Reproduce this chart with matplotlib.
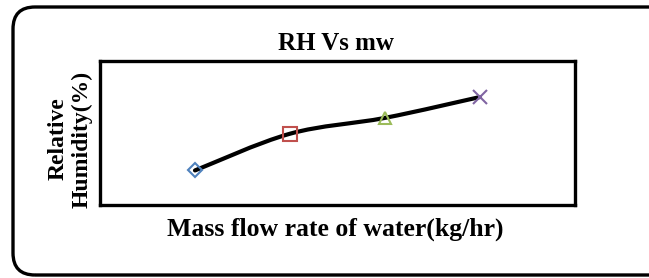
import matplotlib.pyplot as plt
from matplotlib.patches import FancyBboxPatch
from matplotlib.path import Path
from matplotlib.patches import PathPatch
import numpy as np

plt.rcParams['font.family'] = ['Liberation Serif', 'DejaVu Serif']

# data (no tick labels in the original)
flow = [1, 2, 3, 4]
rh = [24, 49.5, 60.5, 75]
markers = ['D', 's', '^', 'x']
msizes = [7, 9.4, 9, 10]
colors = ['#4F81BD', '#C0504D', '#9BBB59', '#8064A2']

W, H = 649, 278
fig = plt.figure(figsize=(W / 100, H / 100), dpi=100)

# outer rounded frame
frame = FancyBboxPatch((13 / W, 1 - 275 / H), 700 / W, 268 / H,
                       boxstyle='round,pad=0,rounding_size=%f' % (22 / W),
                       transform=fig.transFigure, fill=False,
                       edgecolor='black', linewidth=2.4,
                       mutation_aspect=W / H)
fig.add_artist(frame)

ax = fig.add_axes([100 / W, 1 - 205 / H, 475 / W, 144 / H])
ax.set_xlim(0, 5)
ax.set_ylim(0, 100)
ax.set_xticks([])
ax.set_yticks([])
for s in ax.spines.values():
    s.set_linewidth(2.4)

# smoothed line (Catmull-Rom style bezier through the points)
pts = ax.transData.transform(np.column_stack([flow, rh]))
verts = [tuple(pts[0])]
codes = [Path.MOVETO]
n = len(pts)
for i in range(n - 1):
    p0 = pts[i - 1] if i > 0 else pts[i]
    p1 = pts[i]
    p2 = pts[i + 1]
    p3 = pts[i + 2] if i + 2 < n else pts[i + 1]
    c1 = p1 + (p2 - p0) / 6
    c2 = p2 - (p3 - p1) / 6
    verts += [tuple(c1), tuple(c2), tuple(p2)]
    codes += [Path.CURVE4] * 3
inv = ax.transData.inverted()
verts = [tuple(inv.transform(v)) for v in verts]
ax.add_patch(PathPatch(Path(verts, codes), fill=False, edgecolor='black',
                       linewidth=3.0, capstyle='round', zorder=2))

for x, y, m, ms, c in zip(flow, rh, markers, msizes, colors):
    ax.plot(x, y, marker=m, markersize=ms,
            markerfacecolor='none', markeredgecolor=c,
            markeredgewidth=1.5, linestyle='none', zorder=3)

fig.text(336 / W, 1 - 50 / H, 'RH Vs mw', ha='center', va='baseline',
         fontsize=18, fontweight='bold')
fig.text(335 / W, 1 - 236 / H, 'Mass flow rate of water(kg/hr)',
         ha='center', va='baseline', fontsize=18.5, fontweight='bold')
fig.text(70 / W, 1 - 139 / H, 'Relative\nHumidity(%)', ha='center',
         va='center', rotation=90, fontsize=17, fontweight='bold',
         linespacing=1.2)

fig.savefig('out.png', dpi=100)
